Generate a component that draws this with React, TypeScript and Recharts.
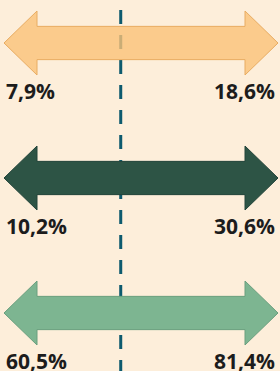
import { BarChart, Bar, XAxis, YAxis, ReferenceLine, LabelList } from 'recharts';

// rows, top to bottom
const categories = ['A', 'B', 'C'];
const lowValues = [7.9, 10.2, 60.5];
const highValues = [18.6, 30.6, 81.4];
// every arrow covers the whole (normalised) range
const arrowSpan: [number, number] = [0, 100];
const markerValue = 42.6;

const arrowFills = ['#FAC278', '#2D5445', '#7DB591'];
const arrowStrokes = ['#E8AC62', '#22443A', '#6A9F7E'];
const arrowOpacity = [0.8, 1, 1];

const data = categories.map((name, i) => ({
  name,
  low: lowValues[i],
  high: highValues[i],
  span: arrowSpan,
}));

const fmt = (v: number) => `${v.toFixed(1).replace('.', ',')}%`;

const W = 280;
const H = 371;
const margin = { top: -25, right: 2, bottom: -9, left: 4 };

function DoubleArrow(props: any) {
  const { x, y, width, height, index } = props;
  const cy = y + height / 2;
  const head = 33;
  const shaft = height * 0.26;
  const l = x;
  const r = x + width;
  const d = `M${l},${cy} L${l + head},${y} L${l + head},${cy - shaft} L${r - head},${cy - shaft} L${r - head},${y} L${r},${cy} L${r - head},${y + height} L${r - head},${cy + shaft} L${l + head},${cy + shaft} L${l + head},${y + height} Z`;
  return (
    <path
      d={d}
      fill={arrowFills[index]}
      fillOpacity={arrowOpacity[index]}
      stroke={arrowStrokes[index]}
      strokeWidth={1}
    />
  );
}

const labelStyle = {
  fontFamily: '"Open Sans", sans-serif',
  fontWeight: 700,
  fontSize: 21,
  fill: '#1c1c1c',
};

const layer = { position: 'absolute' as const, top: 0, left: 0 };

export default function App() {
  return (
    <div style={{ position: 'absolute', top: 0, left: 0, width: W, height: H, background: '#FDEEDA' }}>
      {/* dashed marker sits underneath the arrows */}
      <div style={layer}>
        <BarChart width={W} height={H} data={data} layout='vertical' margin={margin}>
          <XAxis type='number' domain={[0, 100]} hide />
          <YAxis type='category' dataKey='name' hide />
          <Bar dataKey='span' barSize={64} fill='none' isAnimationActive={false} />
          <ReferenceLine x={markerValue} stroke='#0D5A6E' strokeWidth={3} strokeDasharray='14 11' strokeDashoffset={19} />
        </BarChart>
      </div>
      <div style={layer}>
        <BarChart width={W} height={H} data={data} layout='vertical' margin={margin}>
          <XAxis type='number' domain={[0, 100]} hide />
          <YAxis type='category' dataKey='name' hide />
          <Bar dataKey='span' barSize={64} isAnimationActive={false} shape={DoubleArrow}>
            <LabelList
              dataKey='low'
              content={(p: any) => (
                <text x={p.x + 2} y={p.y + p.height / 2 + 56} textAnchor='start' style={labelStyle}>
                  {fmt(p.value)}
                </text>
              )}
            />
            <LabelList
              dataKey='high'
              content={(p: any) => (
                <text x={p.x + p.width - 3} y={p.y + p.height / 2 + 56} textAnchor='end' style={labelStyle}>
                  {fmt(p.value)}
                </text>
              )}
            />
          </Bar>
        </BarChart>
      </div>
    </div>
  );
}
